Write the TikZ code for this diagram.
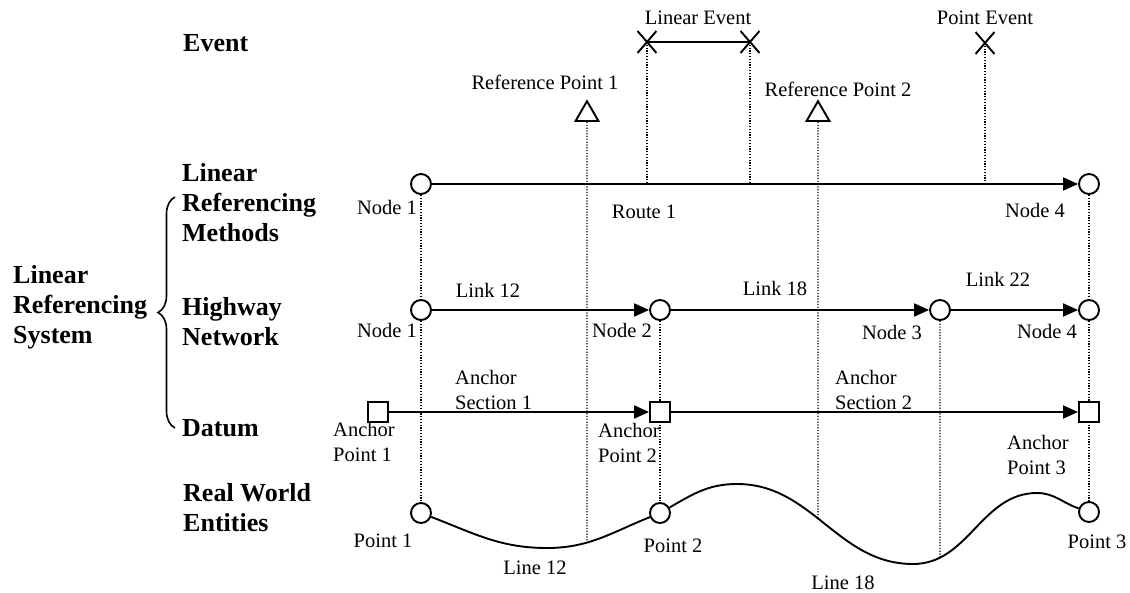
\documentclass[tikz,border=0pt]{standalone}
\usepackage{fontspec}
\setmainfont{Liberation Serif}
\usetikzlibrary{arrows.meta,shapes.geometric,shapes.misc,decorations.pathreplacing,intersections,backgrounds}
\begin{document}
\begin{tikzpicture}[x=1pt,y=1pt,
  txt/.style={inner sep=0pt, font=\fontsize{20.5}{24.5}\selectfont, align=left},
  btxt/.style={inner sep=0pt, font=\fontsize{26}{30}\selectfont\bfseries, align=left, anchor=west},
  circ/.style={circle, draw, fill=white, line width=1.9pt, minimum size=20pt, inner sep=0pt},
  sqr/.style={rectangle, draw, fill=white, line width=1.9pt, minimum size=20pt, inner sep=0pt},
  tri/.style={regular polygon, regular polygon sides=3, draw, fill=white, line width=1.9pt, minimum size=26.5pt, inner sep=0pt},
  xmark/.style={cross out, draw, line width=1.9pt, minimum width=17pt, minimum height=20pt, inner sep=0pt},
  arr/.style={line width=1.9pt, -{Triangle[length=15pt,width=13pt]}},
  ln/.style={line width=1.9pt},
  dotline/.style={line width=1.2pt, dash pattern=on 1.2pt off 1.6pt},
]
\useasboundingbox (0,0) rectangle (1130,-593);

% left labels
\node[btxt] (ev) at (183,-43) {Event};
\node[btxt] (lrs) at (13,-307) {Linear\\Referencing\\System};
\node[btxt] (lrm) at (182,-203) {Linear\\Referencing\\Methods};
\node[btxt] (hn) at (182,-322) {Highway\\Network};
\node[btxt] (dt) at (182,-428) {Datum};
\node[btxt] (rwe) at (183,-508) {Real World\\Entities};
\draw[line width=1.6pt, decorate, decoration={brace, amplitude=17pt}] (175,-428) -- (175,-197);

% event row
\node[xmark] (le1) at (647,-42) {};
\node[xmark] (le2) at (750,-42) {};
\node[xmark] (pe) at (985,-43) {};
\draw[ln] (le1.center) -- (le2.center);
\node[txt] (lelab) at (698,-18) {Linear Event};
\node[txt] (pelab) at (985,-18) {Point Event};
\node[tri, anchor=south] (rp1) at (587,-122) {};
\node[tri, anchor=south] (rp2) at (818,-122) {};
\node[txt] (rp1lab) at (545,-82) {Reference Point 1};
\node[txt] (rp2lab) at (838,-89) {Reference Point 2};

% row 1: linear referencing methods
\node[circ] (n1) at (421,-184) {};
\node[circ] (n4) at (1089,-184) {};
\draw[arr] (n1) -- (n4);
\node[txt] (n1lab) at (387,-207) {Node 1};
\node[txt] (n4lab) at (1035,-210) {Node 4};
\node[txt] (r1lab) at (644,-212) {Route 1};
\coordinate (q1) at (le1 |- n1);
\coordinate (q2) at (le2 |- n1);
\coordinate (q3) at (pe |- n1);

% row 2: highway network
\node[circ] (h1) at (421,-310) {};
\node[circ] (h2) at (660,-310) {};
\node[circ] (h3) at (940,-310) {};
\node[circ] (h4) at (1089,-310) {};
\draw[arr] (h1) -- (h2);
\draw[arr] (h2) -- (h3);
\draw[arr] (h3) -- (h4);
\node[txt] (l12) at (488,-290) {Link 12};
\node[txt] (l18) at (775,-288) {Link 18};
\node[txt] (l22) at (998,-279) {Link 22};
\node[txt] (h1lab) at (387,-330) {Node 1};
\node[txt] (h2lab) at (622,-330) {Node 2};
\node[txt] (h3lab) at (892,-332) {Node 3};
\node[txt] (h4lab) at (1047,-331) {Node 4};

% row 3: datum
\node[sqr] (a1) at (378,-412) {};
\node[sqr] (a2) at (660,-412) {};
\node[sqr] (a3) at (1089,-412) {};
\draw[arr] (a1) -- (a2);
\draw[arr] (a2) -- (a3);
\node[txt, anchor=west] (as1) at (455,-390) {Anchor\\Section 1};
\node[txt, anchor=west] (as2) at (835,-390) {Anchor\\Section 2};
\node[txt, anchor=west] (ap1) at (333,-442) {Anchor\\Point 1};
\node[txt, anchor=west] (ap2) at (598,-443) {Anchor\\Point 2};
\node[txt, anchor=west] (ap3) at (1007,-455) {Anchor\\Point 3};

% row 4: real world
\node[circ] (w1) at (421,-513) {};
\node[circ] (w2) at (660,-513) {};
\node[circ] (w3) at (1089,-512) {};
\coordinate (mn1) at (547,-548);
\coordinate (mx1) at (737,-484);
\coordinate (mn2) at (913,-564);
\coordinate (mx2) at (1037,-493);
\draw[ln, name path=road] (w1) to[out=-21,in=180] (mn1) to[out=0,in=-158] (w2)
  to[out=30,in=180] (mx1) to[out=0,in=180] (mn2) to[out=0,in=180] (mx2) to[out=0,in=161] (w3);
\node[txt] (p1lab) at (383,-541) {Point 1};
\node[txt] (p2lab) at (673,-546) {Point 2};
\node[txt] (p3lab) at (1097,-542) {Point 3};
\node[txt] (ln12) at (535,-568) {Line 12};
\node[txt] (ln18) at (843,-583) {Line 18};

\path[name path=v1] (rp1.south) -- ++(0,-500);
\path[name path=v2] (rp2.south) -- ++(0,-500);
\path[name path=v3] (h3.south) -- ++(0,-400);
\path[name intersections={of=road and v1, by=c1}];
\path[name intersections={of=road and v2, by=c2}];
\path[name intersections={of=road and v3, by=c3}];

\begin{pgfonlayer}{background}
\draw[dotline] (n1.south) -- (w1.north);
\draw[dotline] (h2.south) -- (w2.north);
\draw[dotline] (n4.south) -- (w3.north);
\draw[dotline] (h3.south) -- (c3);
\draw[dotline] (rp1.south) -- (c1);
\draw[dotline] (rp2.south) -- (c2);
\draw[dotline] (le1.center) -- (q1);
\draw[dotline] (le2.center) -- (q2);
\draw[dotline] (pe.center) -- (q3);
\end{pgfonlayer}
\end{tikzpicture}
\end{document}
